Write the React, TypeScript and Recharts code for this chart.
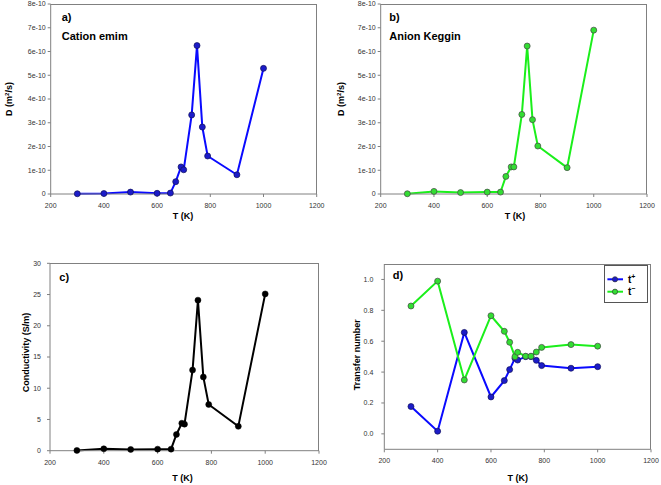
import React from 'react';
import { LineChart, Line, XAxis, YAxis, Customized, Legend } from 'recharts';

const temperatures = [300, 400, 500, 600, 650, 670, 690, 700, 730, 750, 770, 790, 900, 1000];
const cationD = [0.01e-10, 0.02e-10, 0.08e-10, 0.03e-10, 0.04e-10, 0.52e-10, 1.14e-10, 1.02e-10, 3.33e-10, 6.25e-10, 2.82e-10, 1.6e-10, 0.81e-10, 5.29e-10];
const anionD = [0.01e-10, 0.11e-10, 0.06e-10, 0.08e-10, 0.08e-10, 0.74e-10, 1.14e-10, 1.14e-10, 3.35e-10, 6.23e-10, 3.13e-10, 2.02e-10, 1.11e-10, 6.9e-10];
const conductivity = [0.05, 0.3, 0.2, 0.25, 0.25, 2.6, 4.4, 4.25, 12.9, 24.1, 11.8, 7.4, 3.9, 25.1];
const tPlus = [0.177, 0.017, 0.657, 0.239, 0.345, 0.416, 0.49, 0.478, 0.5, 0.5, 0.476, 0.442, 0.425, 0.435];
const tMinus = [0.828, 0.989, 0.349, 0.765, 0.664, 0.593, 0.5, 0.528, 0.503, 0.503, 0.53, 0.56, 0.578, 0.568];

const xTicks = [200, 400, 600, 800, 1000, 1200];
const dTicks = [0, 1e-10, 2e-10, 3e-10, 4e-10, 5e-10, 6e-10, 7e-10, 8e-10];
const condTicks = [0, 5, 10, 15, 20, 25, 30];
const tTicks = [0, 0.2, 0.4, 0.6, 0.8, 1.0];

const FONT = '"Liberation Sans", Arial, sans-serif';
const AXIS = '#808080';
const BLUE = '#0a0aff';
const BLUE_DOT = '#1c1cc8';
const GREEN = '#1bef1b';
const GREEN_DOT = '#33dd33';

const dataA = temperatures.map((T, i) => ({ T, D: cationD[i] }));
const dataB = temperatures.map((T, i) => ({ T, D: anionD[i] }));
const dataC = temperatures.map((T, i) => ({ T, S: conductivity[i] }));
const dataD = temperatures.map((T, i) => ({ T, tp: tPlus[i], tm: tMinus[i] }));

const tickStyle = { fontSize: 7, fill: '#333', fontFamily: FONT };
const fmtD = (v: number) => (v === 0 ? '0' : `${Math.round(v / 1e-10)}e-10`);

// Top/right border of each plot frame (styling only)
const FrameBox = ({ left, top, width, height }: { left: number; top: number; width: number; height: number }) => (
  <div
    style={{
      position: 'absolute',
      left,
      top,
      width,
      height,
      boxSizing: 'border-box',
      borderTop: `1px solid ${AXIS}`,
      borderRight: `1px solid ${AXIS}`,
      pointerEvents: 'none',
    }}
  />
);

const bottomAxis = (height: number) => (
  <XAxis
    dataKey="T"
    type="number"
    domain={[200, 1200]}
    ticks={xTicks}
    height={height}
    tickSize={3}
    tickMargin={6}
    tick={tickStyle}
    axisLine={{ stroke: AXIS }}
    tickLine={{ stroke: AXIS }}
    interval={0}
  />
);

const titleStyle = { fontFamily: FONT, fontWeight: 700, fontSize: 9, fill: '#000' } as const;
const panelStyle = { fontFamily: FONT, fontWeight: 700, fontSize: 11, fill: '#000' } as const;

const DLabel = ({ x, y }: { x: number; y: number }) => (
  <text x={x} y={y} transform={`rotate(-90, ${x}, ${y})`} textAnchor="middle" style={titleStyle}>
    D (m<tspan dy={-3} fontSize={6}>2</tspan>
    <tspan dy={3}>/s)</tspan>
  </text>
);

const renderLegend = (props: any) => {
  const payload = props.payload || [];
  return (
    <svg width={44} height={38} style={{ display: 'block' }}>
      <rect x={0.5} y={0.5} width={43} height={37} fill="#fff" stroke="#555" strokeWidth={1} />
      {payload.map((entry: any, i: number) => {
        const cy = 14.3 + i * 12.4;
        const name = String(entry.value);
        const sup = name.slice(1);
        return (
          <g key={name}>
            <line x1={3.4} x2={19} y1={cy} y2={cy} stroke={entry.color} strokeWidth={2} />
            <circle cx={11} cy={cy} r={2.6} fill={i === 0 ? BLUE_DOT : GREEN_DOT} stroke="#333" strokeWidth={0.7} />
            <text x={24} y={cy + 3.5} style={{ fontFamily: FONT, fontWeight: 700, fontSize: 10, fill: '#000' }}>
              {name.charAt(0)}
              <tspan dy={-4} fontSize={7}>{sup === '-' ? '\u2212' : sup}</tspan>
            </text>
          </g>
        );
      })}
    </svg>
  );
};

export default function App() {
  return (
    <div style={{ position: 'absolute', left: 0, top: 0, width: 661, height: 485, background: '#fff', overflow: 'hidden' }}>
      {/* Panel a */}
      <div style={{ position: 'absolute', left: 0, top: 0 }}>
        <LineChart width={330} height={221} data={dataA} margin={{ top: 4, right: 13.3, bottom: 1, left: 0 }}>
          {bottomAxis(26)}
          <YAxis type="number" domain={[0, 8e-10]} ticks={dTicks} tickFormatter={fmtD} width={50.7} tickSize={3} tickMargin={2} tick={tickStyle} axisLine={{ stroke: AXIS }} tickLine={{ stroke: AXIS }} interval={0} />
          <Line dataKey="D" stroke={BLUE} strokeWidth={2} isAnimationActive={false} dot={{ r: 3, fill: BLUE_DOT, stroke: '#10105a', strokeWidth: 0.7 }} activeDot={false} />
          <Customized
            component={() => (
              <g>
                <text x={61.7} y={20.5} style={panelStyle}>a)</text>
                <text x={61.7} y={39.5} style={panelStyle}>Cation emim</text>
                <DLabel x={12.3} y={99} />
                <text x={183} y={219} textAnchor="middle" style={titleStyle}>T (K)</text>
              </g>
            )}
          />
        </LineChart>
      </div>

      {/* Panel b */}
      <div style={{ position: 'absolute', left: 330, top: 0 }}>
        <LineChart width={331} height={221} data={dataB} margin={{ top: 4, right: 14, bottom: 1, left: 0 }}>
          {bottomAxis(26)}
          <YAxis type="number" domain={[0, 8e-10]} ticks={dTicks} tickFormatter={fmtD} width={50.7} tickSize={3} tickMargin={2} tick={tickStyle} axisLine={{ stroke: AXIS }} tickLine={{ stroke: AXIS }} interval={0} />
          <Line dataKey="D" stroke={GREEN} strokeWidth={2} isAnimationActive={false} dot={{ r: 3, fill: GREEN_DOT, stroke: '#444', strokeWidth: 0.7 }} activeDot={false} />
          <Customized
            component={() => (
              <g>
                <text x={59.3} y={20.5} style={panelStyle}>b)</text>
                <text x={59.3} y={39.5} style={panelStyle}>Anion Keggin</text>
                <DLabel x={14} y={99} />
                <text x={185} y={219} textAnchor="middle" style={titleStyle}>T (K)</text>
              </g>
            )}
          />
        </LineChart>
      </div>

      {/* Panel c */}
      <div style={{ position: 'absolute', left: 0, top: 250 }}>
        <LineChart width={330} height={235} data={dataC} margin={{ top: 13.3, right: 11, bottom: 0, left: 0 }}>
          {bottomAxis(34.3)}
          <YAxis type="number" domain={[0, 30]} ticks={condTicks} width={50} tickSize={3} tickMargin={6} tick={tickStyle} axisLine={{ stroke: AXIS }} tickLine={{ stroke: AXIS }} interval={0} />
          <Line dataKey="S" stroke="#000" strokeWidth={2} isAnimationActive={false} dot={{ r: 3, fill: '#000', stroke: '#000', strokeWidth: 0.5 }} activeDot={false} />
          <Customized
            component={() => (
              <g>
                <text x={59.3} y={30.5} style={panelStyle}>c)</text>
                <text x={28.5} y={102.5} transform="rotate(-90, 28.5, 102.5)" textAnchor="middle" style={titleStyle}>Conductivity (S/m)</text>
                <text x={182.5} y={231} textAnchor="middle" style={titleStyle}>T (K)</text>
              </g>
            )}
          />
        </LineChart>
      </div>

      {/* Panel d */}
      <div style={{ position: 'absolute', left: 330, top: 250 }}>
        <LineChart width={331} height={235} data={dataD} margin={{ top: 14, right: 10, bottom: 0, left: 0 }}>
          {bottomAxis(35.7)}
          <YAxis type="number" domain={[-0.1, 1.1]} ticks={tTicks} tickFormatter={(v: number) => v.toFixed(1)} width={54.3} tickSize={3} tickMargin={8} tick={tickStyle} axisLine={{ stroke: AXIS }} tickLine={{ stroke: AXIS }} interval={0} />
          <Line name="t+" dataKey="tp" stroke={BLUE} strokeWidth={2} isAnimationActive={false} dot={{ r: 3, fill: BLUE_DOT, stroke: '#10105a', strokeWidth: 0.7 }} activeDot={false} />
          <Line name="t-" dataKey="tm" stroke={GREEN} strokeWidth={2} isAnimationActive={false} dot={{ r: 3, fill: GREEN_DOT, stroke: '#444', strokeWidth: 0.7 }} activeDot={false} />
          <Legend
            layout="horizontal"
            verticalAlign="middle"
            align="center"
            content={renderLegend}
            wrapperStyle={{ position: 'absolute', left: 274.3, top: 15, width: 44, height: 38 }}
          />
          <Customized
            component={() => (
              <g>
                <text x={62.7} y={29} style={panelStyle}>d)</text>
                <text x={30} y={104.7} transform="rotate(-90, 30, 104.7)" textAnchor="middle" style={titleStyle}>Transfer number</text>
                <text x={187.8} y={231} textAnchor="middle" style={titleStyle}>T (K)</text>
              </g>
            )}
          />
        </LineChart>
      </div>

      <FrameBox left={51} top={4} width={266} height={190} />
      <FrameBox left={381} top={4} width={266} height={190} />
      <FrameBox left={50} top={263} width={269} height={188} />
      <FrameBox left={384} top={264} width={267} height={185} />
    </div>
  );
}
